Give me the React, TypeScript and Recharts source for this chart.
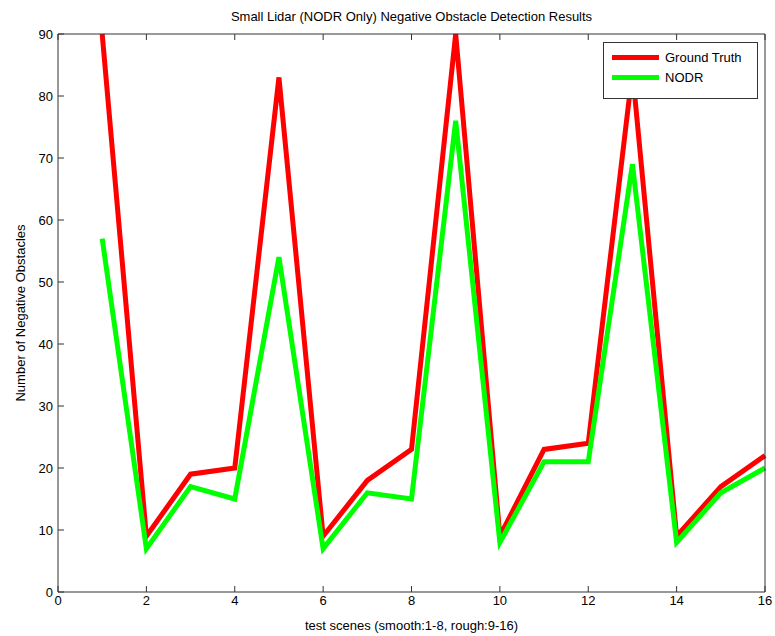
import { LineChart, Line, XAxis, YAxis, Legend } from "recharts";

const scenes = [1, 2, 3, 4, 5, 6, 7, 8, 9, 10, 11, 12, 13, 14, 15, 16];
const groundTruth = [90, 9, 19, 20, 83, 9, 18, 23, 90, 9, 23, 24, 84, 9, 17, 22];
const nodr = [57, 7, 17, 15, 54, 7, 16, 15, 76, 8, 21, 21, 69, 8, 16, 20];
const xTicks = [0, 2, 4, 6, 8, 10, 12, 14, 16];
const yTicks = [0, 10, 20, 30, 40, 50, 60, 70, 80, 90];

const seriesNames = ["Ground Truth", "NODR"];
const seriesColors = ["#ff0000", "#00ff00"];

const data = scenes.map((scene, i) => ({
  scene,
  groundTruth: groundTruth[i],
  nodr: nodr[i],
}));

const FONT = '"Liberation Sans", Arial, sans-serif';
const tickStyle = { fontSize: 13, fill: "#000", fontFamily: FONT };

function LegendBox() {
  return (
    <div
      style={{
        border: "1px solid #333",
        background: "#fff",
        padding: "4px 0 11px 8px",
        fontFamily: FONT,
        fontSize: 13,
        color: "#000",
        boxSizing: "border-box",
        width: 155,
        height: 57,
      }}
    >
      {seriesNames.map((name, i) => (
        <div key={name} style={{ display: "flex", alignItems: "center", height: 20 }}>
          <span
            style={{
              display: "inline-block",
              width: 47,
              height: 5,
              background: seriesColors[i],
              marginRight: 6,
            }}
          />
          {name}
        </div>
      ))}
    </div>
  );
}

export default function App() {
  return (
    <div
      style={{
        position: "absolute",
        left: 0,
        top: 0,
        width: 775,
        height: 636,
        background: "#fff",
        fontFamily: FONT,
      }}
    >
      <div
        style={{
          position: "absolute",
          left: 58,
          width: 707,
          top: 9,
          textAlign: "center",
          fontSize: 13,
          color: "#000",
        }}
      >
        Small Lidar (NODR Only) Negative Obstacle Detection Results
      </div>
      <div
        style={{
          position: "absolute",
          left: 58,
          width: 707,
          top: 618,
          textAlign: "center",
          fontSize: 13,
          color: "#000",
        }}
      >
        test scenes (smooth:1-8, rough:9-16)
      </div>
      <div
        style={{
          position: "absolute",
          left: 20,
          top: 313,
          width: 0,
          height: 0,
        }}
      >
        <div
          style={{
            position: "absolute",
            transform: "translate(-50%, -50%) rotate(-90deg)",
            whiteSpace: "nowrap",
            fontSize: 13,
            color: "#000",
          }}
        >
          Number of Negative Obstacles
        </div>
      </div>

      <LineChart
        width={775}
        height={636}
        data={data}
        margin={{ top: 33, right: 9, bottom: 14, left: 18 }}
      >
        <XAxis
          dataKey="scene"
          type="number"
          domain={[0, 16]}
          ticks={xTicks}
          height={30}
          tickSize={-6}
          tickMargin={10}
          tick={tickStyle}
          stroke="#333"
          interval={0}
        />
        <XAxis
          xAxisId="top"
          orientation="top"
          dataKey="scene"
          type="number"
          domain={[0, 16]}
          ticks={xTicks}
          height={1}
          tickSize={-6}
          tick={() => null}
          stroke="#333"
          interval={0}
        />
        <YAxis
          type="number"
          domain={[0, 90]}
          ticks={yTicks}
          width={40}
          tickSize={-6}
          tickMargin={11}
          tick={tickStyle}
          stroke="#333"
          interval={0}
        />
        <YAxis
          yAxisId="right"
          orientation="right"
          type="number"
          domain={[0, 90]}
          ticks={yTicks}
          width={1}
          tickSize={-6}
          tick={() => null}
          stroke="#333"
          interval={0}
        />
        <Legend
          layout="vertical"
          verticalAlign="middle"
          align="center"
          wrapperStyle={{ left: 603, top: 42, width: 155 }}
          content={LegendBox}
        />
        <Line
          dataKey="groundTruth"
          name={seriesNames[0]}
          stroke={seriesColors[0]}
          strokeWidth={5}
          dot={false}
          type="linear"
          isAnimationActive={false}
        />
        <Line
          dataKey="nodr"
          name={seriesNames[1]}
          stroke={seriesColors[1]}
          strokeWidth={5}
          dot={false}
          type="linear"
          isAnimationActive={false}
        />
      </LineChart>
    </div>
  );
}
